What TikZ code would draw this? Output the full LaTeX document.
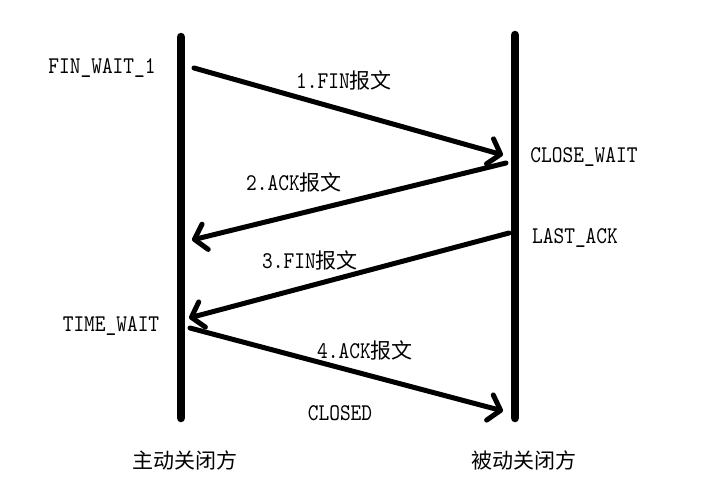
\documentclass[tikz,border=0pt]{standalone}
\usepackage{fontspec}
\setmainfont{lmmono10-regular.otf}[FakeStretch=0.85]
\newfontfamily\cjk{Noto Sans CJK SC}
\usetikzlibrary{arrows.meta}
\begin{document}
\begin{tikzpicture}[x=1pt,y=-1pt,
  lbl/.style={inner sep=0pt,font=\fontsize{24}{26}\selectfont},
  clbl/.style={inner sep=0pt,font=\fontsize{21}{24}\selectfont},
  life/.style={line width=8.5pt,line cap=round},
  msg/.style={line width=5pt,line cap=round,-{Straight Barb[length=11pt,width=26pt,line cap=round,line join=round]}}]
\useasboundingbox (0,0) rectangle (717,501);
% lifelines
\coordinate (L1) at (181,37); \coordinate (L2) at (181,418);
\coordinate (R1) at (515,35); \coordinate (R2) at (515,418);
\draw[life] (L1) -- (L2);
\draw[life] (R1) -- (R2);
% arrow endpoints
\coordinate (a1s) at (194,68);  \coordinate (a1e) at (503,155);
\coordinate (a2s) at (506,163); \coordinate (a2e) at (192,240);
\coordinate (a3s) at (509,233); \coordinate (a3e) at (189,318);
\coordinate (a4s) at (190,328); \coordinate (a4e) at (503,411);
\draw[msg] (a1s) -- (a1e);
\draw[msg] (a2s) -- (a2e);
\draw[msg] (a3s) -- (a3e);
\draw[msg] (a4s) -- (a4e);
% labels
\node[lbl] (fw1) at (102,68) {FIN\_WAIT\_1};
\node[lbl] (m1) at (344,80) {1.FIN{\cjk\fontsize{21}{24}\selectfont 报文}};
\node[lbl] (cw) at (584,157) {CLOSE\_WAIT};
\node[lbl] (m2) at (294,182) {2.ACK{\cjk\fontsize{21}{24}\selectfont 报文}};
\node[lbl] (la) at (575,238) {LAST\_ACK};
\node[lbl] (m3) at (310,260) {3.FIN{\cjk\fontsize{21}{24}\selectfont 报文}};
\node[lbl] (tw) at (111,326) {TIME\_WAIT};
\node[lbl] (m4) at (365,350) {4.ACK{\cjk\fontsize{21}{24}\selectfont 报文}};
\node[lbl] (cl) at (340,413) {CLOSED};
\node[clbl] (act) at (185,460) {\cjk 主动关闭方};
\node[clbl] (pas) at (524,460) {\cjk 被动关闭方};
\end{tikzpicture}
\end{document}
